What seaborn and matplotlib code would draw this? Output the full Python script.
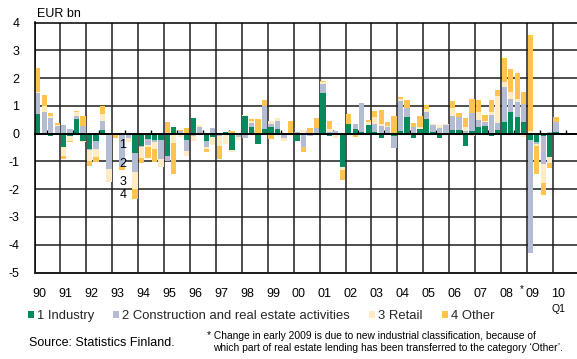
import numpy as np
import pandas as pd
import matplotlib
matplotlib.use("Agg")
import matplotlib.pyplot as plt
import seaborn as sns
from matplotlib.patches import Patch
import matplotlib.transforms as mtransforms

# Quarterly change in lending by sector, EUR bn, 1990Q1 - 2010Q1
quarters = pd.period_range("1990Q1", "2010Q1", freq="Q")

industry = [
    0.70, 0.02, -0.08, -0.03,   -0.50, -0.08, 0.54, -0.25,
    -0.55, -0.25, 0.13, 0.00,   0.02, -0.05, -0.05, -0.70,
    -0.45, -0.20, -0.22, -0.22, -0.80, 0.24, 0.03, -0.22,
    0.55, 0.00, -0.25, -0.12,   0.00, 0.04, -0.60, 0.00,
    0.62, 0.23, -0.36, 0.15,    0.23, 0.18, 0.00, 0.00,
    -0.25, 0.02, 0.00, 0.00,    1.46, -0.08, 0.00, -1.20,
    0.33, 0.18, 0.05, 0.30,     0.07, -0.17, 0.00, -0.10,
    0.08, 0.58, -0.17, 0.16,    0.54, 0.05, -0.15, 0.00,
    0.12, 0.12, -0.45, 0.10,    0.25, 0.29, -0.10, 0.13,
    0.41, 0.77, 0.59, 0.41,     -0.23, -0.31, -0.07, -0.83,
    0.05,
]
construction = [
    0.75, 0.76, 0.55, 0.28,     0.30, 0.15, 0.09, 0.27,
    -0.05, -0.30, 0.32, -1.28,  0.00, -1.15, -0.12, -0.68,
    -0.05, -0.22, -0.08, -0.70, -0.18, 0.00, 0.08, -0.40,
    -0.10, 0.22, -0.25, 0.20,   -0.08, -0.05, 0.00, -0.12,
    -0.15, 0.15, 0.00, 0.84,    0.13, 0.29, -0.15, 0.00,
    0.05, -0.50, -0.10, 0.21,   0.32, 0.06, 0.10, 0.00,
    0.00, 0.17, 1.05, 0.00,     0.27, 0.28, 0.22, -0.42,
    1.08, 0.33, 0.25, 0.00,     0.22, 0.25, 0.20, 0.30,
    0.50, 0.48, 0.10, 0.65,     0.24, 0.12, 0.66, 0.24,
    1.26, 0.46, 0.54, 0.66,     -4.07, -0.05, -1.04, 0.07,
    0.36,
]
retail = [
    0.05, 0.20, 0.10, 0.04,     -0.30, -0.17, 0.13, -0.05,
    -0.38, -0.30, 0.27, -0.45,  0.00, 0.00, -0.12, -0.62,
    -0.38, -0.05, -0.25, -0.28, 0.00, -0.33, -0.12, -0.18,
    -0.18, 0.10, -0.05, -0.30,  -0.35, -0.33, -0.05, -0.12,
    0.04, 0.09, 0.02, 0.00,     0.11, 0.10, -0.10, -0.05,
    0.00, 0.10, 0.02, 0.00,     0.07, 0.10, -0.15, -0.10,
    0.00, 0.00, 0.00, 0.10,     0.24, 0.06, 0.05, 0.00,
    0.09, 0.00, 0.00, 0.07,     0.12, 0.05, 0.10, 0.05,
    0.31, 0.00, 0.13, -0.10,    0.28, 0.06, 0.10, 0.98,
    0.20, 0.26, 0.10, -0.12,    0.10, -0.08, -0.67, -0.24,
    0.00,
]
other = [
    0.85, 0.42, 0.10, 0.06,     -0.12, -0.05, 0.07, 0.37,
    -0.18, -0.18, 0.28, 0.00,   -0.15, -0.12, 0.00, -0.35,
    -0.17, -0.40, -0.48, 0.00,  0.42, -1.12, 0.02, 0.20,
    0.00, 0.00, -0.10, 0.00,    -0.50, 0.00, 0.08, 0.02,
    0.00, 0.06, 0.50, 0.22,     -0.18, 0.00, 0.00, 0.45,
    0.00, -0.15, 0.18, 0.36,    0.05, 0.28, 0.00, -0.36,
    0.36, -0.12, 0.00, 0.10,    0.22, 0.50, 0.15, 0.62,
    0.08, 0.31, 0.12, 0.42,     0.15, 0.00, 0.00, 0.00,
    0.26, 0.14, 0.32, 0.50,     0.45, 0.21, 0.44, 0.22,
    0.84, 0.84, 0.96, 0.42,     3.45, -1.02, -0.42, -0.18,
    0.20,
]

series_names = ["1 Industry", "2 Construction and real estate activities",
                "3 Retail", "4 Other"]
segment_labels = ["1", "2", "3", "4"]
colors = ["#068A5D", "#B3BCD3", "#FFEBC4", "#FFC34F"]

years = list(range(1990, 2011))
year_labels = ["90", "91", "92", "93", "94", "95", "96", "97", "98", "99",
               "00", "01", "02", "03", "04", "05", "06", "07", "08", "09", "10"]
label_quarter = "1993Q4"

sns.set_theme(style="white")
plt.rcParams["font.family"] = ["Liberation Sans", "DejaVu Sans"]

df = pd.DataFrame({"quarter": quarters,
                   series_names[0]: industry,
                   series_names[1]: construction,
                   series_names[2]: retail,
                   series_names[3]: other})
df["x"] = df["quarter"].dt.year + (df["quarter"].dt.quarter - 0.5) / 4

vals = df[series_names].to_numpy().T
pos = np.clip(vals, 0, None)
neg = np.clip(vals, None, 0)
pos_base = np.vstack([np.zeros(vals.shape[1]), np.cumsum(pos, axis=0)[:-1]])
neg_base = np.vstack([np.zeros(vals.shape[1]), np.cumsum(neg, axis=0)[:-1]])

fig = plt.figure(figsize=(5.77, 3.59), dpi=100)
ax = fig.add_axes([34.5 / 577, 1 - 272.5 / 359, 1 - 34.5 / 577, 250 / 359])

bar_w = 0.205
for i, c in enumerate(colors):
    ax.bar(df["x"], pos[i], bottom=pos_base[i], width=bar_w, color=c,
           linewidth=0, zorder=2)
    ax.bar(df["x"], neg[i], bottom=neg_base[i], width=bar_w, color=c,
           linewidth=0, zorder=2)

ax.set_xlim(1990, 2010.93)
ax.set_ylim(-5, 4)

# horizontal and year gridlines
grid_col = "#1e1e1e"
ax.set_yticks(range(-5, 5))
ax.set_yticklabels([str(v) for v in range(-5, 5)])
ax.set_xticks(np.array(years) + 0.5)
ax.set_xticks(years, minor=True)
ax.set_xticklabels([])
ax.grid(axis="y", which="major", color=grid_col, linewidth=1.1, zorder=0)
ax.grid(axis="x", which="minor", color=grid_col, linewidth=1.1, zorder=0)
ax.grid(axis="x", which="major", visible=False)
ax.set_axisbelow(True)
ax.axhline(-5, color=grid_col, linewidth=1.4, clip_on=False, zorder=3)

for side in ["top", "left", "bottom"]:
    ax.spines[side].set_visible(True)
    ax.spines[side].set_color("black")
    ax.spines[side].set_linewidth(1.1)
ax.spines["right"].set_visible(False)
ax.spines["bottom"].set_position(("data", 0))
ax.spines["bottom"].set_linewidth(1.4)

ax.tick_params(axis="y", length=0, pad=11, labelsize=9, colors="black")
ax.tick_params(axis="x", which="major", direction="in", length=3, width=1,
               color="black", bottom=True)
ax.tick_params(axis="x", which="minor", length=0)

# year labels below the frame
tr = mtransforms.blended_transform_factory(ax.transData, ax.transAxes)
for yr, lab in zip(years, year_labels):
    ax.text(yr + 0.2, -0.085, lab, transform=tr, ha="center", va="center",
            fontsize=9, color="black")
ax.text(2009.2 - 0.42, -0.065, "*", transform=tr, ha="center", va="center",
        fontsize=7, color="black")
ax.text(2010.22, -0.148, "Q1", transform=tr, ha="center", va="center",
        fontsize=7.5, color="black")

# segment numbers beside the 1993 Q4 bar
idx = df.index[df["quarter"] == pd.Period(label_quarter, freq="Q")][0]
for i, lab in enumerate(segment_labels):
    centre = neg_base[i, idx] + neg[i, idx] / 2
    ax.text(df.loc[idx, "x"] - 0.47, centre - 0.05, lab, ha="center",
            va="center", fontsize=9, color="black", zorder=5)

fig.text(37 / 577, 1 - 14 / 359, "EUR bn", ha="left", va="center",
         fontsize=9, color="black")

handles = [Patch(facecolor=c, edgecolor="none", label=n)
           for c, n in zip(colors, series_names)]
fig.legend(handles=handles, loc="center left",
           bbox_to_anchor=(28 / 577, 1 - 316 / 359), ncol=4, frameon=False,
           fontsize=9.4, handlelength=0.45, handleheight=0.45,
           handletextpad=0.25, columnspacing=1.45, borderaxespad=0,
           borderpad=0)

fig.text(29 / 577, 1 - 343 / 359, "Source: Statistics Finland.",
         ha="left", va="center", fontsize=9, color="black")
note_font = ["Liberation Sans Narrow", "Liberation Sans", "DejaVu Sans"]
fig.text(207 / 577, 1 - 336 / 359,
         "* Change in early 2009 is due to new industrial classification, because of",
         ha="left", va="center", fontsize=7.4, family=note_font, color="black")
fig.text(213 / 577, 1 - 348 / 359,
         "which part of real estate lending has been transferred to the category \u2018Other\u2019.",
         ha="left", va="center", fontsize=7.4, family=note_font, color="black")

fig.savefig("out.png", dpi=100)
